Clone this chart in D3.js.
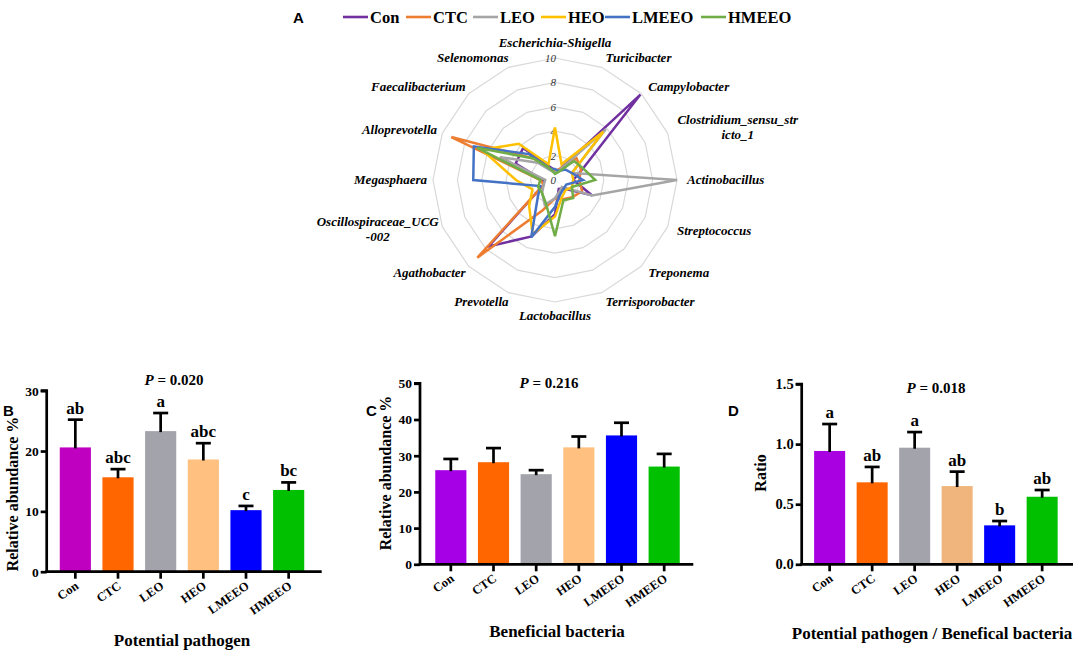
<!DOCTYPE html>
<html>
<head>
<meta charset="utf-8">
<script src="https://cdn.jsdelivr.net/npm/d3@7"></script>
<style>
  body { margin: 0; background: #fff; }
  svg { display: block; }
</style>
</head>
<body>
<svg id="chart" width="1084" height="653"></svg>
<script>
// ---------------- DATA ----------------
const groups = ["Con", "CTC", "LEO", "HEO", "LMEEO", "HMEEO"];
const genera = [
  "Escherichia-Shigella", "Turicibacter", "Campylobacter", "Clostridium_sensu_stricto_1",
  "Actinobacillus", "Streptococcus", "Treponema", "Terrisporobacter", "Lactobacillus",
  "Prevotella", "Agathobacter", "Oscillospiraceae_UCG-002", "Megasphaera",
  "Alloprevotella", "Faecalibacterium", "Selenomonas"
];
const generaLines = [
  ["Escherichia-Shigella"], ["Turicibacter"], ["Campylobacter"], ["Clostridium_sensu_str", "icto_1"],
  ["Actinobacillus"], ["Streptococcus"], ["Treponema"], ["Terrisporobacter"], ["Lactobacillus"],
  ["Prevotella"], ["Agathobacter"], ["Oscillospiraceae_UCG", "-002"], ["Megasphaera"],
  ["Alloprevotella"], ["Faecalibacterium"], ["Selenomonas"]
];
// relative abundance (%) per genus, radar panel A
const radarCon   = [0.8, 0.9, 9.9, 2.5, 1.5, 3.3, 1.0, 0.8, 2.8, 5.0, 7.7, 1.0, 1.0, 3.5, 3.7, 1.2];
const radarCTC   = [0.7, 1.0, 2.5, 2.3, 2.0, 2.4, 2.0, 1.7, 1.5, 2.7, 9.0, 1.0, 1.2, 9.2, 2.5, 1.0];
const radarLEO   = [0.6, 0.8, 5.9, 1.5, 10.0, 3.3, 0.8, 1.0, 1.5, 2.2, 1.5, 1.0, 0.8, 4.9, 2.0, 0.8];
const radarHEO   = [4.3, 1.4, 5.6, 1.5, 1.5, 1.5, 1.2, 1.5, 3.0, 4.8, 3.0, 2.0, 3.2, 6.5, 4.2, 1.4];
const radarLMEEO = [0.9, 0.8, 1.2, 1.5, 2.3, 1.0, 1.0, 1.2, 2.2, 5.1, 2.0, 1.3, 6.7, 7.2, 3.0, 1.0];
const radarHMEEO = [0.5, 0.7, 2.2, 2.5, 3.3, 1.5, 2.1, 1.8, 4.6, 2.0, 1.5, 1.5, 1.2, 6.9, 2.5, 1.0];
const radarTicks = [0, 2, 4, 6, 8, 10];
const radarColors = ["#7030A0", "#ED7D31", "#A5A5A5", "#FFC000", "#4472C4", "#70AD47"];

// panel B: potential pathogen
const pathogenMean = [20.6, 15.65, 23.3, 18.6, 10.2, 13.55];
const pathogenSEM  = [4.6, 1.35, 3.0, 2.7, 0.7, 1.25];
const pathogenLetters = ["ab", "abc", "a", "abc", "c", "bc"];
const pathogenTicks = [0, 10, 20, 30];
// panel C: beneficial bacteria
const beneficialMean = [26.0, 28.2, 24.9, 32.3, 35.6, 27.0];
const beneficialSEM  = [3.1, 3.9, 1.1, 3.0, 3.5, 3.5];
const beneficialTicks = [0, 10, 20, 30, 40, 50];
// panel D: ratio
const ratioMean = [0.943, 0.682, 0.97, 0.651, 0.324, 0.562];
const ratioSEM  = [0.224, 0.128, 0.13, 0.12, 0.036, 0.056];
const ratioLetters = ["a", "ab", "a", "ab", "b", "ab"];
const ratioTicks = [0, 0.5, 1.0, 1.5];

const colorsB = ["#C000C0", "#FF6600", "#A3A3AB", "#FFC080", "#0000FF", "#00C000"];
const colorsC = ["#A600E6", "#FF6600", "#A3A3AB", "#FFC080", "#0000FF", "#00C000"];
const colorsD = ["#A800E0", "#FF6600", "#A3A3AB", "#F0B57C", "#0000FF", "#00C000"];

const SERIF = "'Liberation Serif', Tinos, 'Times New Roman', 'DejaVu Serif', serif";
const SANS = "'Liberation Sans', Arimo, Arial, sans-serif";

// ---------------- DRAW ----------------
const svg = d3.select("#chart").style("font-family", SERIF);
svg.append("rect").attr("width", 1084).attr("height", 653).attr("fill", "#fff");

function txt(sel) { return sel.append("text").style("font-family", SERIF); }

// ---- Panel A: radar ----
(function radar() {
  const cx = 555, cy = 180, R = 122;
  const n = genera.length;
  const r = d3.scaleLinear().domain([0, 10]).range([0, R]);
  const ang = i => i * 2 * Math.PI / n;
  const g = svg.append("g").attr("transform", `translate(${cx},${cy})`);

  const ring = d3.lineRadial().angle((d, i) => ang(i)).radius(d => r(d)).curve(d3.curveLinearClosed);
  radarTicks.filter(t => t > 0).forEach(t => {
    g.append("path").attr("d", ring(genera.map(() => t)))
      .attr("fill", "none").attr("stroke", "#d9d9d9").attr("stroke-width", 1.2);
  });
  radarTicks.forEach(t => {
    txt(g).attr("x", 1).attr("y", -r(t) + 4)
      .attr("text-anchor", "end").attr("font-size", 11).attr("fill", "#333")
      .attr("font-style", "italic").text(t);
  });

  const series = [radarCon, radarCTC, radarLEO, radarHEO, radarLMEEO, radarHMEEO];
  series.forEach((s, k) => {
    g.append("path").attr("d", ring(s)).attr("fill", "none")
      .attr("stroke", radarColors[k]).attr("stroke-width", 2.5)
      .attr("stroke-linejoin", "miter");
  });

  // genus labels
  generaLines.forEach((lines, i) => {
    const a = ang(i);
    const sx = Math.sin(a), sy = -Math.cos(a);
    const lr = 132;
    const px = sx * lr, py = sy * lr;
    const t = txt(g).attr("font-size", 13).attr("font-weight", "bold")
      .attr("font-style", "italic").attr("fill", "#000");
    const side = Math.abs(sx) < 0.05 ? "mid" : (sx > 0 ? "right" : "left");
    if (lines.length === 1) {
      let by = py + 4;
      if (side === "mid") by = sy < 0 ? py - 1 : py + 8;
      t.attr("x", px + (side === "left" ? 4 : 0)).attr("y", by)
        .attr("text-anchor", side === "mid" ? "middle" : (side === "right" ? "start" : "end"))
        .text(lines[0]);
    } else {
      lines.forEach((ln, j) => t.append("tspan").attr("x", 0).attr("y", j === 0 ? -5 : 10)
        .attr("text-anchor", "middle").text(ln));
      const w = t.node().getBBox().width;
      const ox = side === "right" ? px + w / 2 : px - w / 2 + 6;
      t.attr("transform", `translate(${ox},${py})`);
    }
  });

  // legend
  const lg = svg.append("g");
  const legX = [343, 406, 473, 541, 605, 701];
  groups.forEach((name, k) => {
    lg.append("line").attr("x1", legX[k]).attr("x2", legX[k] + 25)
      .attr("y1", 17).attr("y2", 17).attr("stroke", radarColors[k]).attr("stroke-width", 2.6);
    txt(lg).attr("x", legX[k] + 27).attr("y", 23).attr("font-size", 16.5)
      .attr("font-weight", "bold").text(name);
  });
  svg.append("text").attr("x", 293).attr("y", 23).attr("font-size", 15)
    .attr("font-weight", "bold").style("font-family", SANS).text("A");
})();

// ---- Bar panels ----
function barPanel(o) {
  const g = svg.append("g");
  const y = d3.scaleLinear().domain([0, o.max]).range([o.y0, o.ytop]);
  const x = d3.scaleBand().domain(groups).range(o.band).paddingInner(0.27).paddingOuter(0.135);
  const bw = x.bandwidth();

  // bars
  g.selectAll("rect.bar").data(o.mean).enter().append("rect")
    .attr("x", (d, i) => x(groups[i])).attr("width", bw)
    .attr("y", d => y(d)).attr("height", d => o.y0 - y(d))
    .attr("fill", (d, i) => o.colors[i]);

  // error bars (upper)
  o.mean.forEach((m, i) => {
    const cxb = x(groups[i]) + bw / 2;
    const top = y(m + o.sem[i]);
    g.append("line").attr("x1", cxb).attr("x2", cxb).attr("y1", y(m) + 1).attr("y2", top)
      .attr("stroke", "#000").attr("stroke-width", 2.7);
    g.append("line").attr("x1", cxb - 7.5).attr("x2", cxb + 7.5).attr("y1", top).attr("y2", top)
      .attr("stroke", "#000").attr("stroke-width", 2.7);
    if (o.letters) {
      txt(g).attr("x", cxb).attr("y", top - 6).attr("text-anchor", "middle")
        .attr("font-size", 17).attr("font-weight", "bold").text(o.letters[i]);
    }
  });

  // y axis
  const yAxis = d3.axisLeft(y).tickValues(o.ticks).tickSize(6).tickPadding(2)
    .tickFormat(o.fmt || d3.format("d"));
  const ya = g.append("g").attr("transform", `translate(${o.ax},0)`).call(yAxis)
    .attr("font-family", null);
  ya.select(".domain").attr("stroke-width", 2.7).attr("d", `M-6,${o.ytop}H0V${o.y0}`);
  ya.selectAll(".tick line").attr("stroke-width", 2.7);
  ya.selectAll(".tick text").attr("font-size", o.tickFont || 13.5).attr("font-weight", "bold")
    .style("font-family", SERIF).attr("fill", "#000");

  // x axis
  const xa = g.append("g");
  xa.append("line").attr("x1", o.ax - 1.3).attr("x2", o.xend).attr("y1", o.y0).attr("y2", o.y0)
    .attr("stroke", "#000").attr("stroke-width", 2.7);
  groups.forEach((name, i) => {
    const tx = x(name) + bw / 2;
    xa.append("line").attr("x1", tx).attr("x2", tx).attr("y1", o.y0).attr("y2", o.y0 + 7)
      .attr("stroke", "#000").attr("stroke-width", 2.7);
    txt(xa).attr("text-anchor", "end")
      .attr("transform", `translate(${tx + 4},${o.y0 + 16}) rotate(-35)`)
      .attr("font-size", 12.5).attr("font-weight", "bold").text(name);
  });

  // y label
  txt(g).attr("transform", `translate(${o.ylx},${o.yly}) rotate(-90)`)
    .attr("text-anchor", "middle").attr("font-size", 16).attr("font-weight", "bold").text(o.ylabel);
  // x title
  txt(g).attr("x", o.xtx).attr("y", o.xty).attr("text-anchor", "middle")
    .attr("font-size", 17).attr("font-weight", "bold").text(o.xtitle);
  // P value
  const pt = txt(g).attr("x", o.px).attr("y", o.py).attr("text-anchor", "middle")
    .attr("font-size", 15).attr("font-weight", "bold");
  pt.append("tspan").attr("font-style", "italic").text("P");
  pt.append("tspan").text(" = " + o.p);
  // panel letter
  svg.append("text").attr("x", o.lx).attr("y", o.ly).attr("font-size", 15).attr("font-weight", "bold")
    .style("font-family", SANS).text(o.letter);
}

barPanel({
  letter: "B", lx: 3, ly: 416,
  ax: 46.7, y0: 571.7, ytop: 390.7, xend: 321.7, band: [54, 310], max: 30,
  ticks: pathogenTicks, mean: pathogenMean, sem: pathogenSEM, letters: pathogenLetters,
  colors: colorsB, ylabel: "Relative abundance %", ylx: 18, yly: 494,
  xtitle: "Potential pathogen", xtx: 182, xty: 646, p: "0.020", px: 174, py: 385
});
barPanel({
  letter: "C", lx: 366, ly: 416,
  ax: 420, y0: 564.3, ytop: 383.3, xend: 693.3, band: [429.5, 685.5], max: 50,
  ticks: beneficialTicks, mean: beneficialMean, sem: beneficialSEM, letters: null,
  colors: colorsC, ylabel: "Relative abundance %", ylx: 391, yly: 473,
  xtitle: "Beneficial bacteria", xtx: 557, xty: 637, p: "0.216", px: 549, py: 388
});
barPanel({
  letter: "D", lx: 728, ly: 416,
  ax: 801.7, y0: 564.3, ytop: 384, xend: 1073, band: [808.4, 1063.4], max: 1.5,
  ticks: ratioTicks, mean: ratioMean, sem: ratioSEM, letters: ratioLetters, fmt: d3.format(".1f"),
  tickFont: 14.5,
  colors: colorsD, ylabel: "Ratio", ylx: 766, yly: 473,
  xtitle: "Potential pathogen / Benefical bacteria", xtx: 932, xty: 639, p: "0.018", px: 936, py: 393
});
</script>
</body>
</html>
